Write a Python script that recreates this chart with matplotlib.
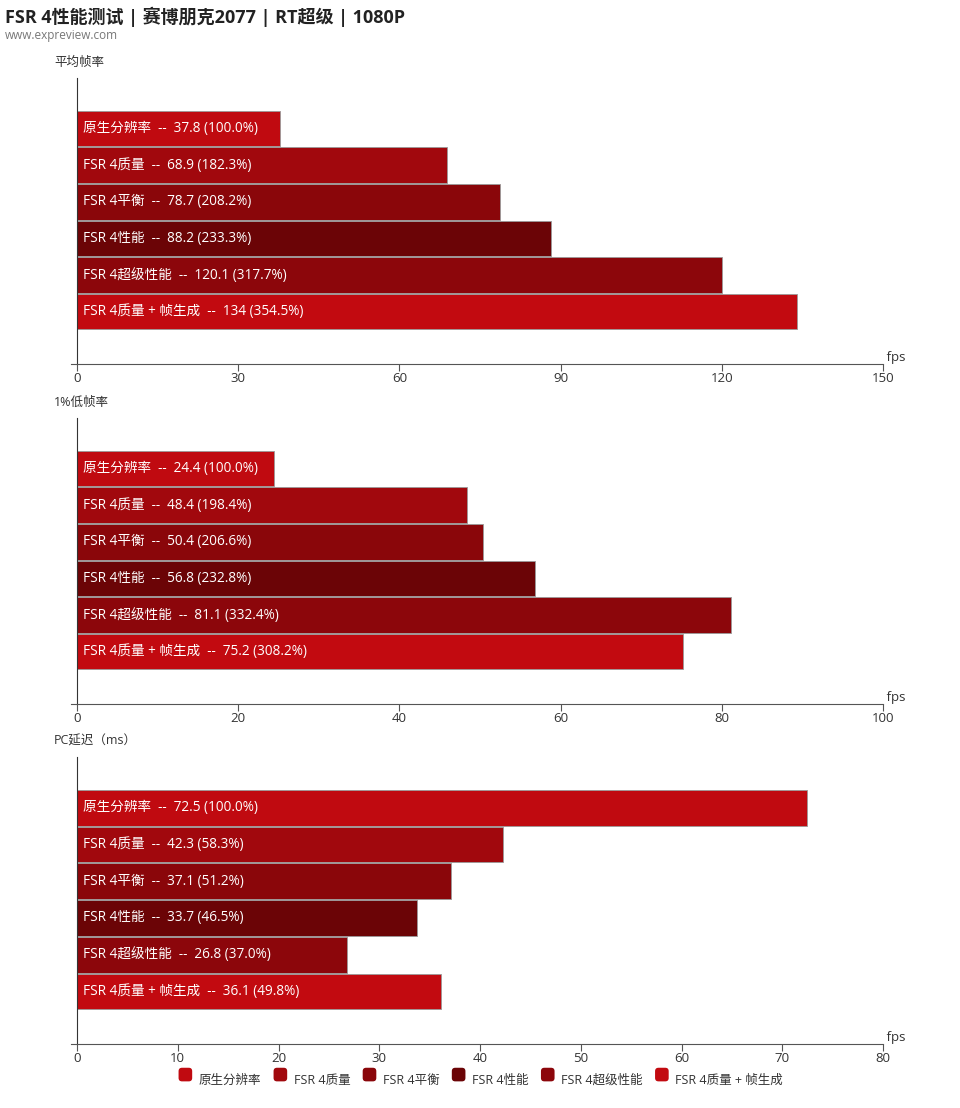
import matplotlib.pyplot as plt
from matplotlib.patches import FancyBboxPatch, Patch
from matplotlib.legend_handler import HandlerPatch

plt.rcParams['font.family'] = ['Open Sans', 'Noto Sans CJK SC', 'DejaVu Sans']

categories = ["原生分辨率", "FSR 4质量", "FSR 4平衡", "FSR 4性能", "FSR 4超级性能", "FSR 4质量 + 帧生成"]
colors = ["#C00A10", "#A1080D", "#8A060A", "#6B0406", "#8C060B", "#C20A10"]

avg_fps = [37.8, 68.9, 78.7, 88.2, 120.1, 134]
low_fps = [24.4, 48.4, 50.4, 56.8, 81.1, 75.2]
latency = [72.5, 42.3, 37.1, 33.7, 26.8, 36.1]

panels = [
    ("平均帧率", avg_fps, [0, 30, 60, 90, 120, 150], 78, 364),
    ("1%低帧率", low_fps, [0, 20, 40, 60, 80, 100], 418, 704),
    ("PC延迟（ms）", latency, [0, 10, 20, 30, 40, 50, 60, 70, 80], 757, 1044),
]

W, H = 960, 1108
fig = plt.figure(figsize=(W / 100, H / 100), dpi=100)

fig.text(5 / W, 1 - 17 / H, "FSR 4性能测试 | 赛博朋克2077 | RT超级 | 1080P",
         fontsize=13, fontweight="bold", color="#222222", va="center", ha="left")
fig.text(5 / W, 1 - 35 / H, "www.expreview.com", fontsize=8.5, color="#777777",
         va="center", ha="left")

left, right = 77, 883
for title, vals, ticks, top, bottom in panels:
    ax = fig.add_axes([left / W, 1 - bottom / H, (right - left) / W, (bottom - top) / H])
    y = list(range(len(vals)))
    ax.barh(y, vals, height=0.97, color=colors, edgecolor="#9a9a9a", linewidth=0.6, zorder=2)
    base = vals[0]
    for yi, cat, v in zip(y, categories, vals):
        ax.annotate(f"{cat}  --  {v:g} ({v / base * 100:.1f}%)", xy=(0, yi),
                    xytext=(4, 0), textcoords="offset points", va="center", ha="left",
                    color="white", fontsize=9.8, zorder=3)
    ax.set_xlim(ticks[0], ticks[-1])
    ax.set_ylim(len(vals) - 1 + 1.43, -1.38)
    ax.set_xticks(ticks)
    ax.set_yticks([])
    for s in ["top", "right"]:
        ax.spines[s].set_visible(False)
    ax.spines["left"].set_color("#333333")
    ax.spines["bottom"].set_color("#555555")
    ax.spines["bottom"].set_bounds(ticks[0] - (ticks[-1] - ticks[0]) * 0.008, ticks[-1])
    ax.tick_params(axis="x", length=5, color="#555555", labelcolor="#333333",
                   labelsize=9.5, pad=1)
    ax.text(1.0, 0.0, " fps", transform=ax.transAxes, ha="left", va="bottom",
            fontsize=9.5, color="#333333")
    fig.text(54 / W, 1 - (top - 16) / H, title, fontsize=9, color="#333333",
             ha="left", va="center")


class RoundBox(HandlerPatch):
    def create_artists(self, legend, orig, xd, yd, w, h, fs, trans):
        s = min(w, h)
        p = FancyBboxPatch((xd + (w - s) / 2, yd + (h - s) / 2), s, s,
                           boxstyle="round,pad=0,rounding_size=%f" % (s * 0.25),
                           facecolor=orig.get_facecolor(), edgecolor="none",
                           transform=trans)
        return [p]


handles = [Patch(facecolor=c, label=l) for c, l in zip(colors, categories)]
fig.legend(handles=handles, loc="center", bbox_to_anchor=(0.5, 1 - 1080 / H), ncol=6,
           frameon=False, fontsize=9, handlelength=1.3, handleheight=1.3,
           handletextpad=0.4, columnspacing=0.9, labelcolor="#333333",
           handler_map={Patch: RoundBox()})

fig.savefig("out.png", dpi=100, facecolor="white")
